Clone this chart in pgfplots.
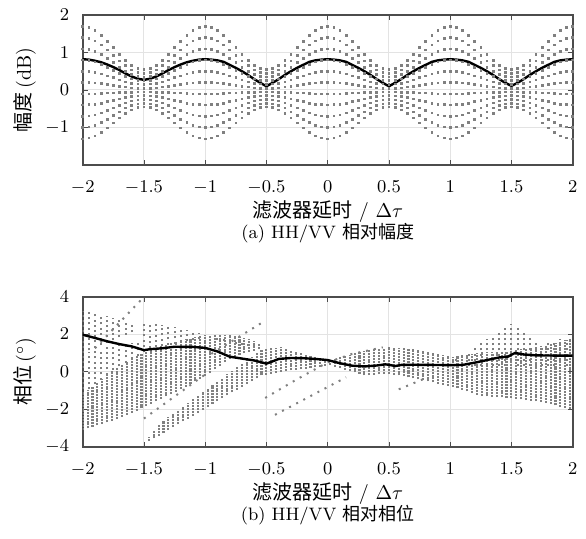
\documentclass[border=0pt]{standalone}
\usepackage{fontspec}
\usepackage{pgfplots}
\usepackage{pgfplotstable}
\pgfplotsset{compat=1.18}
\newfontfamily\cjk{Noto Sans CJK SC}
\definecolor{dotc}{gray}{0.5}
\definecolor{framec}{gray}{0.3}

% top panel: x, eleven dotted traces, mean (thick line)
\pgfplotstableread{
x c1 c2 c3 c4 c5 c6 c7 c8 c9 c10 c11 m
-2.00 1.70 1.40 1.10 0.80 0.50 0.20 -0.10 -0.40 -0.70 -1.00 -1.30 0.82
-1.95 1.67 1.38 1.08 0.79 0.49 0.20 -0.10 -0.39 -0.69 -0.98 -1.28 0.81
-1.90 1.59 1.31 1.03 0.75 0.47 0.19 -0.10 -0.38 -0.66 -0.94 -1.22 0.78
-1.85 1.46 1.20 0.95 0.69 0.43 0.17 -0.09 -0.35 -0.61 -0.87 -1.13 0.74
-1.80 1.30 1.07 0.84 0.61 0.38 0.15 -0.08 -0.31 -0.55 -0.78 -1.01 0.68
-1.75 1.13 0.93 0.73 0.53 0.33 0.13 -0.08 -0.28 -0.48 -0.68 -0.88 0.61
-1.70 0.95 0.78 0.61 0.44 0.27 0.10 -0.07 -0.24 -0.41 -0.58 -0.74 0.53
-1.65 0.79 0.65 0.50 0.36 0.22 0.08 -0.06 -0.20 -0.34 -0.48 -0.63 0.44
-1.60 0.66 0.54 0.42 0.30 0.18 0.06 -0.06 -0.17 -0.29 -0.41 -0.53 0.36
-1.55 0.58 0.47 0.37 0.26 0.16 0.05 -0.05 -0.16 -0.26 -0.37 -0.47 0.30
-1.50 0.55 0.45 0.35 0.25 0.15 0.05 -0.05 -0.15 -0.25 -0.35 -0.45 0.27
-1.45 0.58 0.47 0.37 0.26 0.16 0.05 -0.05 -0.16 -0.26 -0.37 -0.47 0.30
-1.40 0.66 0.54 0.42 0.30 0.18 0.06 -0.06 -0.17 -0.29 -0.41 -0.53 0.36
-1.35 0.79 0.65 0.50 0.36 0.22 0.08 -0.06 -0.20 -0.34 -0.48 -0.63 0.44
-1.30 0.95 0.78 0.61 0.44 0.27 0.10 -0.07 -0.24 -0.41 -0.58 -0.74 0.53
-1.25 1.13 0.93 0.73 0.53 0.33 0.13 -0.08 -0.28 -0.48 -0.68 -0.88 0.61
-1.20 1.30 1.07 0.84 0.61 0.38 0.15 -0.08 -0.31 -0.55 -0.78 -1.01 0.68
-1.15 1.46 1.20 0.95 0.69 0.43 0.17 -0.09 -0.35 -0.61 -0.87 -1.13 0.74
-1.10 1.59 1.31 1.03 0.75 0.47 0.19 -0.10 -0.38 -0.66 -0.94 -1.22 0.78
-1.05 1.67 1.38 1.08 0.79 0.49 0.20 -0.10 -0.39 -0.69 -0.98 -1.28 0.81
-1.00 1.70 1.40 1.10 0.80 0.50 0.20 -0.10 -0.40 -0.70 -1.00 -1.30 0.82
-0.95 1.67 1.38 1.08 0.79 0.49 0.20 -0.10 -0.39 -0.69 -0.98 -1.28 0.81
-0.90 1.59 1.31 1.03 0.75 0.47 0.19 -0.10 -0.38 -0.66 -0.94 -1.22 0.79
-0.85 1.46 1.20 0.95 0.69 0.43 0.17 -0.09 -0.35 -0.61 -0.87 -1.13 0.75
-0.80 1.30 1.07 0.84 0.61 0.38 0.15 -0.08 -0.31 -0.55 -0.78 -1.01 0.67
-0.75 1.13 0.93 0.73 0.53 0.33 0.13 -0.08 -0.28 -0.48 -0.68 -0.88 0.59
-0.70 0.95 0.78 0.61 0.44 0.27 0.10 -0.07 -0.24 -0.41 -0.58 -0.74 0.50
-0.65 0.79 0.65 0.50 0.36 0.22 0.08 -0.06 -0.20 -0.34 -0.48 -0.63 0.40
-0.60 0.66 0.54 0.42 0.30 0.18 0.06 -0.06 -0.17 -0.29 -0.41 -0.53 0.29
-0.55 0.58 0.47 0.37 0.26 0.16 0.05 -0.05 -0.16 -0.26 -0.37 -0.47 0.19
-0.50 0.55 0.45 0.35 0.25 0.15 0.05 -0.05 -0.15 -0.25 -0.35 -0.45 0.10
-0.45 0.58 0.47 0.37 0.26 0.16 0.05 -0.05 -0.16 -0.26 -0.37 -0.47 0.19
-0.40 0.66 0.54 0.42 0.30 0.18 0.06 -0.06 -0.17 -0.29 -0.41 -0.53 0.29
-0.35 0.79 0.65 0.50 0.36 0.22 0.08 -0.06 -0.20 -0.34 -0.48 -0.63 0.40
-0.30 0.95 0.78 0.61 0.44 0.27 0.10 -0.07 -0.24 -0.41 -0.58 -0.74 0.50
-0.25 1.13 0.93 0.73 0.53 0.33 0.13 -0.08 -0.28 -0.48 -0.68 -0.88 0.59
-0.20 1.30 1.07 0.84 0.61 0.38 0.15 -0.08 -0.31 -0.55 -0.78 -1.01 0.67
-0.15 1.46 1.20 0.95 0.69 0.43 0.17 -0.09 -0.35 -0.61 -0.87 -1.13 0.75
-0.10 1.59 1.31 1.03 0.75 0.47 0.19 -0.10 -0.38 -0.66 -0.94 -1.22 0.79
-0.05 1.67 1.38 1.08 0.79 0.49 0.20 -0.10 -0.39 -0.69 -0.98 -1.28 0.81
0.00 1.70 1.40 1.10 0.80 0.50 0.20 -0.10 -0.40 -0.70 -1.00 -1.30 0.82
0.05 1.67 1.38 1.08 0.79 0.49 0.20 -0.10 -0.39 -0.69 -0.98 -1.28 0.81
0.10 1.59 1.31 1.03 0.75 0.47 0.19 -0.10 -0.38 -0.66 -0.94 -1.22 0.79
0.15 1.46 1.20 0.95 0.69 0.43 0.17 -0.09 -0.35 -0.61 -0.87 -1.13 0.75
0.20 1.30 1.07 0.84 0.61 0.38 0.15 -0.08 -0.31 -0.55 -0.78 -1.01 0.67
0.25 1.13 0.93 0.73 0.53 0.33 0.13 -0.08 -0.28 -0.48 -0.68 -0.88 0.59
0.30 0.95 0.78 0.61 0.44 0.27 0.10 -0.07 -0.24 -0.41 -0.58 -0.74 0.50
0.35 0.79 0.65 0.50 0.36 0.22 0.08 -0.06 -0.20 -0.34 -0.48 -0.63 0.40
0.40 0.66 0.54 0.42 0.30 0.18 0.06 -0.06 -0.17 -0.29 -0.41 -0.53 0.29
0.45 0.58 0.47 0.37 0.26 0.16 0.05 -0.05 -0.16 -0.26 -0.37 -0.47 0.19
0.50 0.55 0.45 0.35 0.25 0.15 0.05 -0.05 -0.15 -0.25 -0.35 -0.45 0.10
0.55 0.58 0.47 0.37 0.26 0.16 0.05 -0.05 -0.16 -0.26 -0.37 -0.47 0.19
0.60 0.66 0.54 0.42 0.30 0.18 0.06 -0.06 -0.17 -0.29 -0.41 -0.53 0.29
0.65 0.79 0.65 0.50 0.36 0.22 0.08 -0.06 -0.20 -0.34 -0.48 -0.63 0.40
0.70 0.95 0.78 0.61 0.44 0.27 0.10 -0.07 -0.24 -0.41 -0.58 -0.74 0.50
0.75 1.13 0.93 0.73 0.53 0.33 0.13 -0.08 -0.28 -0.48 -0.68 -0.88 0.59
0.80 1.30 1.07 0.84 0.61 0.38 0.15 -0.08 -0.31 -0.55 -0.78 -1.01 0.67
0.85 1.46 1.20 0.95 0.69 0.43 0.17 -0.09 -0.35 -0.61 -0.87 -1.13 0.75
0.90 1.59 1.31 1.03 0.75 0.47 0.19 -0.10 -0.38 -0.66 -0.94 -1.22 0.79
0.95 1.67 1.38 1.08 0.79 0.49 0.20 -0.10 -0.39 -0.69 -0.98 -1.28 0.81
1.00 1.70 1.40 1.10 0.80 0.50 0.20 -0.10 -0.40 -0.70 -1.00 -1.30 0.82
1.05 1.67 1.38 1.08 0.79 0.49 0.20 -0.10 -0.39 -0.69 -0.98 -1.28 0.81
1.10 1.59 1.31 1.03 0.75 0.47 0.19 -0.10 -0.38 -0.66 -0.94 -1.22 0.79
1.15 1.46 1.20 0.95 0.69 0.43 0.17 -0.09 -0.35 -0.61 -0.87 -1.13 0.75
1.20 1.30 1.07 0.84 0.61 0.38 0.15 -0.08 -0.31 -0.55 -0.78 -1.01 0.67
1.25 1.13 0.93 0.73 0.53 0.33 0.13 -0.08 -0.28 -0.48 -0.68 -0.88 0.59
1.30 0.95 0.78 0.61 0.44 0.27 0.10 -0.07 -0.24 -0.41 -0.58 -0.74 0.50
1.35 0.79 0.65 0.50 0.36 0.22 0.08 -0.06 -0.20 -0.34 -0.48 -0.63 0.40
1.40 0.66 0.54 0.42 0.30 0.18 0.06 -0.06 -0.17 -0.29 -0.41 -0.53 0.29
1.45 0.58 0.47 0.37 0.26 0.16 0.05 -0.05 -0.16 -0.26 -0.37 -0.47 0.19
1.50 0.55 0.45 0.35 0.25 0.15 0.05 -0.05 -0.15 -0.25 -0.35 -0.45 0.11
1.55 0.58 0.47 0.37 0.26 0.16 0.05 -0.05 -0.16 -0.26 -0.37 -0.47 0.19
1.60 0.66 0.54 0.42 0.30 0.18 0.06 -0.06 -0.17 -0.29 -0.41 -0.53 0.29
1.65 0.79 0.65 0.50 0.36 0.22 0.08 -0.06 -0.20 -0.34 -0.48 -0.63 0.40
1.70 0.95 0.78 0.61 0.44 0.27 0.10 -0.07 -0.24 -0.41 -0.58 -0.74 0.50
1.75 1.13 0.93 0.73 0.53 0.33 0.13 -0.08 -0.28 -0.48 -0.68 -0.88 0.59
1.80 1.30 1.07 0.84 0.61 0.38 0.15 -0.08 -0.31 -0.55 -0.78 -1.01 0.67
1.85 1.46 1.20 0.95 0.69 0.43 0.17 -0.09 -0.35 -0.61 -0.87 -1.13 0.75
1.90 1.59 1.31 1.03 0.75 0.47 0.19 -0.10 -0.38 -0.66 -0.94 -1.22 0.79
1.95 1.67 1.38 1.08 0.79 0.49 0.20 -0.10 -0.39 -0.69 -0.98 -1.28 0.81
2.00 1.70 1.40 1.10 0.80 0.50 0.20 -0.10 -0.40 -0.70 -1.00 -1.30 0.82
}\amp

% bottom panel: dense columns (x, low end, high end)
\pgfplotstableread{
x lo hi
-2.00 -3.10 -1.20
-1.96 -3.02 -0.99
-1.92 -2.94 -0.78
-1.88 -2.86 -0.58
-1.84 -2.78 -0.37
-1.80 -2.70 -0.16
-1.76 -2.62 0.05
-1.72 -2.52 0.21
-1.68 -2.40 0.37
-1.64 -2.29 0.52
-1.60 -2.18 0.67
-1.56 -2.07 0.82
-1.52 -1.96 0.97
-1.48 -1.84 1.09
-1.44 -1.71 1.18
-1.40 -1.58 1.27
-1.36 -1.45 1.36
-1.32 -1.32 1.45
-1.28 -1.20 1.53
-1.24 -1.07 1.61
-1.20 -0.93 1.67
-1.16 -0.79 1.73
-1.12 -0.66 1.78
-1.08 -0.52 1.84
-1.04 -0.39 1.89
-1.00 -0.25 1.95
-0.96 -0.06 1.95
-0.92 0.13 1.95
-0.88 0.32 1.95
-0.84 0.51 1.95
-0.80 0.70 1.95
-0.76 0.79 1.90
-0.72 0.89 1.84
-0.68 0.98 1.79
-0.64 1.07 1.74
-0.60 1.13 1.63
-0.56 1.20 1.50
}\bandA

\pgfplotstableread{
x lo hi
-1.46 -3.70 -3.50
-1.42 -3.56 -3.16
-1.38 -3.42 -2.81
-1.34 -3.27 -2.62
-1.30 -3.11 -2.43
-1.26 -2.96 -2.24
-1.22 -2.81 -2.05
-1.18 -2.65 -1.86
-1.14 -2.50 -1.67
-1.10 -2.34 -1.48
-1.06 -2.19 -1.29
-1.02 -2.04 -1.10
-0.98 -1.88 -0.90
-0.94 -1.72 -0.71
-0.90 -1.57 -0.52
-0.86 -1.41 -0.33
-0.82 -1.26 -0.14
-0.78 -1.10 0.05
-0.74 -0.95 0.24
-0.70 -0.80 0.43
-0.66 -0.65 0.62
-0.62 -0.50 0.81
-0.58 -0.35 1.00
-0.54 -0.20 1.19
-0.50 -0.15 1.22
-0.46 -0.10 1.25
-0.42 -0.05 1.27
-0.38 0.00 1.30
-0.34 0.03 1.22
-0.30 0.07 1.15
-0.26 0.10 1.07
-0.22 0.13 1.00
-0.18 0.16 0.92
-0.14 0.20 0.85
-0.10 0.23 0.77
-0.06 0.27 0.72
-0.02 0.31 0.67
0.02 0.35 0.62
0.06 0.27 0.69
0.10 0.19 0.77
0.14 0.11 0.84
0.18 0.04 0.91
0.22 -0.04 0.98
0.26 -0.12 1.06
0.30 -0.20 1.13
0.34 -0.18 1.16
0.38 -0.16 1.20
0.42 -0.14 1.23
0.46 -0.12 1.27
0.50 -0.10 1.30
0.54 -0.15 1.28
0.58 -0.20 1.26
0.62 -0.25 1.24
0.66 -0.30 1.22
0.70 -0.35 1.20
0.74 -0.41 1.15
0.78 -0.46 1.10
0.82 -0.52 1.04
0.86 -0.57 0.99
0.90 -0.63 0.94
0.94 -0.69 0.88
0.98 -0.74 0.83
1.02 -0.80 0.78
1.06 -0.88 0.83
1.10 -0.97 0.87
1.14 -1.05 0.92
1.18 -1.13 0.96
1.22 -1.22 1.01
1.26 -1.30 1.05
1.30 -1.32 1.06
1.34 -1.33 1.07
1.38 -1.35 1.08
1.42 -1.37 1.08
1.46 -1.38 1.09
1.50 -1.40 1.10
1.54 -1.44 1.14
1.58 -1.47 1.19
1.62 -1.51 1.23
1.66 -1.54 1.27
1.70 -1.58 1.31
1.74 -1.61 1.36
1.78 -1.65 1.40
1.82 -1.72 1.47
1.86 -1.79 1.54
1.90 -1.86 1.61
1.94 -1.93 1.68
1.98 -2.00 1.75
}\bandB

% bottom panel: sparse dot columns
\pgfplotstableread{
x lo hi
-2.00 1.00 3.25
-1.95 1.14 3.18
-1.90 1.28 3.10
-1.85 1.41 3.03
-1.80 1.55 2.95
-1.75 1.69 2.88
-1.70 1.83 2.80
-1.65 1.96 2.73
-1.60 2.10 2.65
-2.00 -1.20 0.95
-1.95 -0.94 1.04
-1.90 -0.68 1.13
-1.85 -0.42 1.22
-1.80 -0.16 1.31
-1.75 0.10 1.40
-1.70 0.29 1.44
-1.65 0.48 1.48
-1.60 0.67 1.52
-1.55 0.86 1.56
-1.50 1.05 2.67
-1.45 1.26 2.62
-1.40 1.32 2.56
-1.35 1.38 2.51
-1.30 1.44 2.45
-1.25 1.50 2.40
-1.20 1.56 2.32
-1.15 1.62 2.24
-1.10 1.68 2.16
-1.05 1.74 2.08
-0.90 1.68 1.88
-0.85 1.62 1.82
-0.80 1.56 1.76
-0.75 1.50 1.70
-0.70 1.43 1.62
-0.65 1.37 1.53
-0.60 1.30 1.45
1.05 0.30 0.70
1.10 0.30 0.91
1.15 0.30 1.11
1.20 0.30 1.32
1.25 0.30 1.52
1.30 0.30 1.73
1.35 0.30 1.93
1.40 0.30 2.14
1.45 0.30 2.34
1.50 0.30 2.55
1.55 0.30 2.32
1.60 0.30 2.09
1.65 0.30 1.86
1.70 0.30 1.63
1.75 0.30 1.40
1.80 0.30 1.52
1.85 0.30 1.63
1.90 0.30 1.75
1.95 0.30 1.70
}\bandC

\pgfplotsset{
  panel/.style={scale only axis, width=245pt, height=75pt,
    xmin=-2, xmax=2, xtick={-2,-1.5,-1,-0.5,0,0.5,1,1.5,2},
    grid=major, grid style={gray!22, line width=0.5pt},
    axis line style={framec, line width=0.9pt},
    tick style={framec, line width=0.4pt}, major tick length=2.5pt,
    tick align=inside,
    ticklabel style={font=\fontsize{9}{10}\selectfont},
    xticklabel style={yshift=-4.5pt},
    yticklabel style={xshift=-3.3pt},
    label style={font=\fontsize{9}{10}\selectfont},
    every axis x label/.style={at={(axis description cs:0.5,0)}, yshift=-23.3pt, anchor=center},
    every axis y label/.style={at={(axis description cs:0,0.5)}, xshift=-28.9pt, rotate=90, anchor=center},
  },
  dense/.style={draw=none, mark=none, forget plot,
    error bars/y dir=plus, error bars/y explicit, error bars/error mark=none,
    error bars/error bar style={draw=dotc, solid, line width=1.05pt, dash pattern=on 1pt off 0.45pt}},
  sparse/.style={draw=none, mark=none, forget plot,
    error bars/y dir=plus, error bars/y explicit, error bars/error mark=none,
    error bars/error bar style={draw=dotc, line width=1pt, dash pattern=on 1pt off 1.6pt}},
  dline/.style={dotc, line width=1pt, dash pattern=on 1pt off 3pt, mark=none, forget plot},
}

\begin{document}
\begin{tikzpicture}
\useasboundingbox (-41.35pt,-187pt) rectangle (251.65pt,82.5pt);

\begin{axis}[panel, at={(0,0)},
    ymin=-2, ymax=2, ytick={-1,0,1,2},
    xlabel={{\cjk 滤波器延时} / $\Delta\tau$},
    ylabel={{\cjk 幅度}\,(dB)}]
\pgfplotsinvokeforeach{1,...,11}{
  \addplot[dotc, only marks, mark=square*, mark size=0.42pt,
    mark options={draw=none, fill=dotc}, forget plot]
    table[x=x, y=c#1] {\amp};
}
\addplot[black, line width=1.2pt, mark=none] table[x=x, y=m] {\amp};
\end{axis}
\node[font=\fontsize{9}{10}\selectfont] at (122.5pt,-34pt) {(a) HH/VV {\cjk 相对幅度}};

\begin{axis}[panel, at={(0,-140.85pt)},
    ymin=-4, ymax=4, ytick={-4,-2,0,2,4},
    xlabel={{\cjk 滤波器延时} / $\Delta\tau$},
    ylabel={{\cjk 相位}\,($^{\circ}$)}]
\addplot[dense] table[x=x, y=lo, y error expr=\thisrow{hi}-\thisrow{lo}] {\bandA};
\addplot[dense] table[x=x, y=lo, y error expr=\thisrow{hi}-\thisrow{lo}] {\bandB};
\addplot[sparse] table[x=x, y=lo, y error expr=\thisrow{hi}-\thisrow{lo}] {\bandC};
\addplot[dline] coordinates {(-1.9,1.25) (-1.52,3.85)};
\addplot[dline] coordinates {(-0.95,0.95) (-0.54,2.6)};
\addplot[dline] coordinates {(-1.5,-2.5) (-0.98,-0.05)};
\addplot[dline] coordinates {(-0.51,-1.4) (-0.25,-0.4) (0,0.5) (0.2,0.95) (0.45,1.3)};
\addplot[dline] coordinates {(-0.43,-2.3) (0.15,-0.3)};
\addplot[dline] coordinates {(0.58,-0.94) (0.78,-0.4)};
\addplot[black, line width=1.2pt, mark=none] coordinates {
  (-2,1.97) (-1.9,1.8) (-1.8,1.62) (-1.7,1.47) (-1.6,1.35) (-1.5,1.15)
  (-1.45,1.2) (-1.35,1.25) (-1.25,1.33) (-1.1,1.32) (-1,1.27) (-0.9,1.08)
  (-0.8,0.8) (-0.7,0.7) (-0.6,0.6) (-0.5,0.43) (-0.45,0.55) (-0.4,0.68)
  (-0.3,0.73) (-0.2,0.72) (-0.1,0.68) (0,0.62) (0.1,0.45) (0.2,0.32)
  (0.3,0.28) (0.4,0.33) (0.47,0.39) (0.5,0.37) (0.55,0.3) (0.6,0.36)
  (0.7,0.37) (0.85,0.36) (1,0.35) (1.1,0.36) (1.2,0.48) (1.3,0.62)
  (1.4,0.76) (1.47,0.8) (1.53,1.0) (1.6,0.92) (1.7,0.87) (1.85,0.86) (2,0.86)};
\end{axis}
\node[font=\fontsize{9}{10}\selectfont] at (122.5pt,-174.85pt) {(b) HH/VV {\cjk 相对相位}};
\end{tikzpicture}
\end{document}
